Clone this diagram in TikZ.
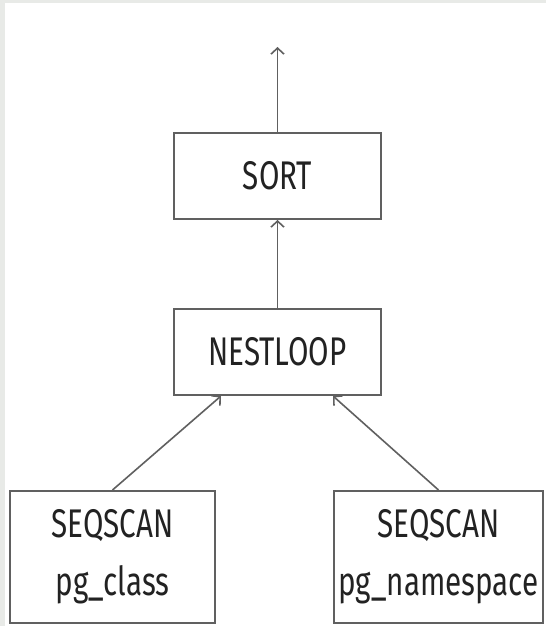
\documentclass[tikz,border=0pt]{standalone}
\usepackage{fontspec}
\setmainfont[FakeStretch=0.74]{Fira Sans}
\usetikzlibrary{arrows.meta,calc}
\definecolor{edgegrey}{HTML}{606060}
\definecolor{textgrey}{HTML}{222222}
\definecolor{framegrey}{HTML}{E8EAE7}
\begin{document}
\begin{tikzpicture}[x=1pt,y=1pt,
  opbox/.style={draw=edgegrey, line width=2pt, fill=white, rectangle,
    inner sep=0pt, text=textgrey, font=\fontsize{40}{58}\selectfont, align=center},
  flow/.style={draw=edgegrey, line width=1.6pt,
    -{Straight Barb[length=6pt,width=13pt,line width=1.6pt]}}]
  % page frame
  \fill[framegrey] (0,0) rectangle (546,-626);
  \fill[white] (5,-3) rectangle (546,-626);
  \useasboundingbox (0,0) rectangle (546,-626);

  % plan operators
  \node[opbox, minimum width=207pt, minimum height=86pt] (sort) at (277.5,-176) {SORT};
  \node[opbox, minimum width=207pt, minimum height=86pt] (nest) at (277.5,-352) {NESTLOOP};
  \node[opbox, minimum width=205pt, minimum height=132pt] (scana) at (112.5,-557) {SEQSCAN\\pg\_class};
  \node[opbox, minimum width=209pt, minimum height=132pt] (scanb) at (438.5,-557) {SEQSCAN\\pg\_namespace};
  \coordinate (out) at (277.5,-47);

  % data flow
  \draw[flow] (sort.north) -- (out);
  \draw[flow] (nest.north) -- (sort.south);
  \draw[flow] (scana.north) -- ([xshift=48pt]nest.south west);
  \draw[flow] (scanb.north) -- ([xshift=-49pt]nest.south east);
\end{tikzpicture}
\end{document}
